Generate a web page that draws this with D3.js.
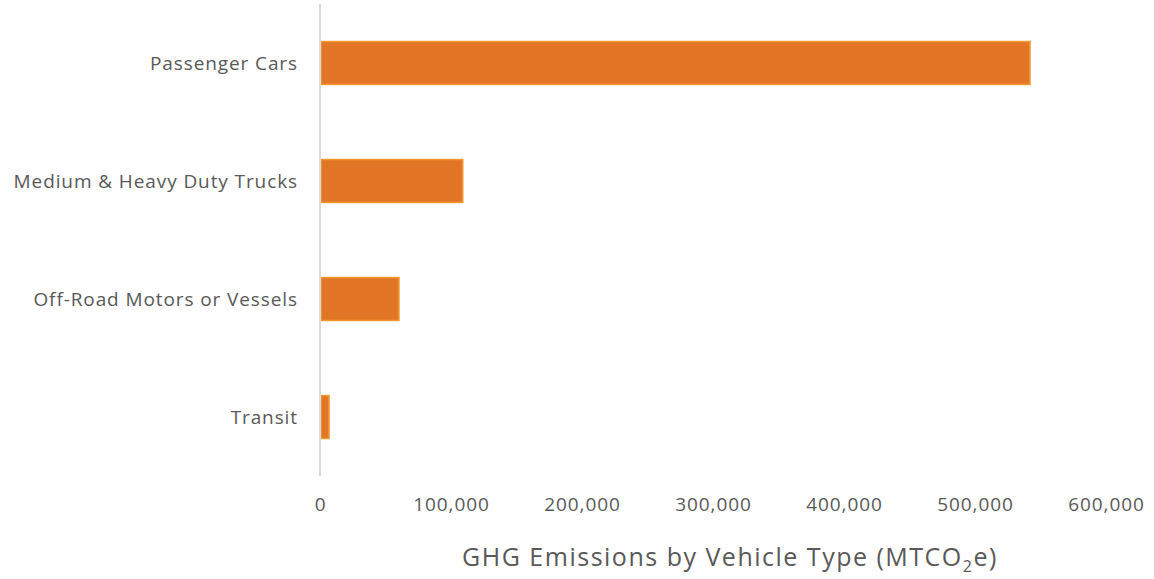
<!DOCTYPE html>
<html>
<head>
<meta charset="utf-8">
<script src="https://cdn.jsdelivr.net/npm/d3@7"></script>
<style>
  body { margin: 0; background: #fff; }
  svg text { font-family: "Open Sans", sans-serif; fill: #595959; }
</style>
</head>
<body>
<div id="chart"></div>
<script>
const categories = ['Passenger Cars', 'Medium & Heavy Duty Trucks', 'Off-Road Motors or Vessels', 'Transit'];
const emissions = [542000, 109000, 60300, 6900];
const xTicks = [0, 100000, 200000, 300000, 400000, 500000, 600000];

const width = 1154, height = 579;
const margin = { top: 4, right: 48, bottom: 103, left: 320 };

const svg = d3.select('#chart')
    .append('svg')
    .attr('width', width)
    .attr('height', height);

const x = d3.scaleLinear()
    .domain([0, 600000])
    .range([margin.left, width - margin.right]);

const y = d3.scaleBand()
    .domain(categories)
    .range([margin.top, height - margin.bottom])
    .paddingInner(0.636)
    .paddingOuter(0.318);

const data = categories.map((c, i) => ({ name: c, value: emissions[i] }));

// Bars
svg.selectAll('rect.bar')
    .data(data)
    .enter()
    .append('rect')
    .attr('class', 'bar')
    .attr('x', x(0) + 1)
    .attr('y', d => y(d.name))
    .attr('width', d => x(d.value) - x(0) - 1)
    .attr('height', y.bandwidth())
    .style('fill', '#e37626')
    .style('stroke', '#f29a32')
    .style('stroke-width', 1.5);

// Vertical axis line
svg.append('line')
    .attr('x1', x(0)).attr('x2', x(0))
    .attr('y1', margin.top).attr('y2', height - margin.bottom)
    .style('stroke', '#d9d9d9')
    .style('stroke-width', 2);

// Category labels
const yAxis = svg.append('g')
    .attr('transform', `translate(${x(0) - 22},0)`)
    .call(d3.axisLeft(y).tickSize(0).tickPadding(0));
yAxis.select('.domain').remove();
yAxis.selectAll('text')
    .style('font-size', '19px')
    .style('letter-spacing', '0.9px')
    .attr('dy', '0.35em');

// X tick labels
const xAxis = svg.append('g')
    .attr('transform', `translate(0,${height - margin.bottom + 18})`)
    .call(d3.axisBottom(x).tickValues(xTicks).tickSize(0).tickFormat(d3.format(',')));
xAxis.select('.domain').remove();
xAxis.selectAll('text')
    .style('font-size', '19px')
    .style('letter-spacing', '0.9px');

// Axis title
const title = svg.append('text')
    .attr('x', 730)
    .attr('y', 566)
    .attr('text-anchor', 'middle')
    .style('font-size', '25px')
    .style('letter-spacing', '1.5px');
title.append('tspan').text('GHG Emissions by Vehicle Type (MTCO');
title.append('tspan').attr('dy', 6).style('font-size', '16px').text('2');
title.append('tspan').attr('dy', -6).text('e)');
</script>
</body>
</html>
